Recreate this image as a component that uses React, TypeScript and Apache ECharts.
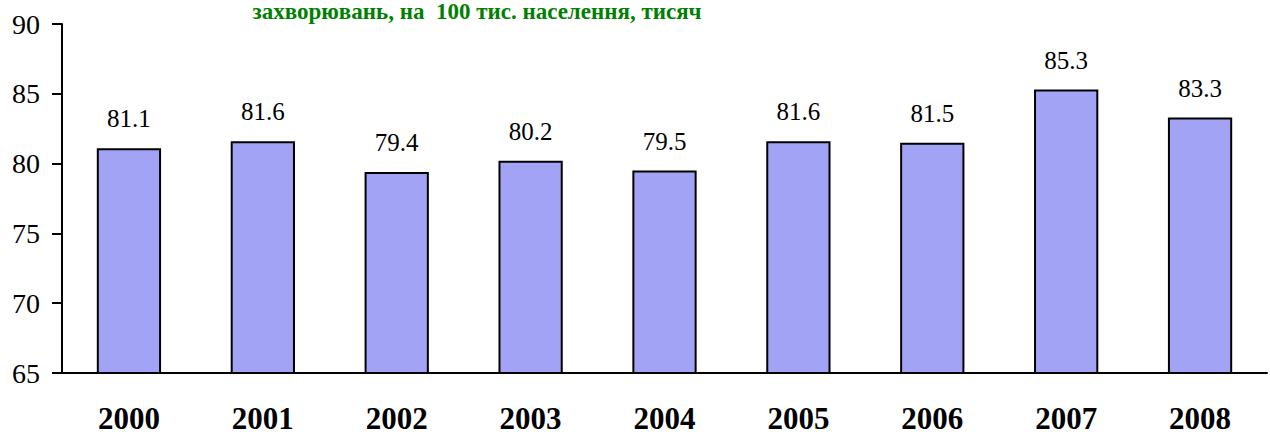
import React, { useEffect, useRef } from "react";
import * as echarts from "echarts";

const years = ["2000", "2001", "2002", "2003", "2004", "2005", "2006", "2007", "2008"];
const values = [81.1, 81.6, 79.4, 80.2, 79.5, 81.6, 81.5, 85.3, 83.3];
const titleText = "захворювань, на  100 тис. населення, тисяч";

const SERIF = "Liberation Serif";

export default function App() {
  const ref = useRef<HTMLDivElement>(null);
  useEffect(() => {
    const chart = echarts.init(ref.current!, null, { renderer: "svg" });
    chart.setOption({
      animation: false,
      backgroundColor: "#ffffff",
      graphic: [
        {
          type: "text",
          x: 477,
          y: 0,
          style: {
            text: titleText,
            fontFamily: SERIF,
            fontWeight: "bold",
            fontSize: 23,
            fill: "#008000",
            textAlign: "center",
            textVerticalAlign: "top",
          },
        },
      ],
      grid: { left: 62, right: 3, top: 24, bottom: 63 },
      xAxis: {
        type: "category",
        data: years,
        axisLine: { lineStyle: { color: "#000", width: 2 } },
        axisTick: { length: 10, lineStyle: { color: "#000", width: 2 } },
        axisLabel: {
          color: "#000",
          fontFamily: SERIF,
          fontWeight: "bold",
          fontSize: 31,
          margin: 30,
        },
      },
      yAxis: {
        type: "value",
        min: 65,
        max: 90,
        interval: 5,
        splitLine: { show: false },
        axisLine: { show: true, lineStyle: { color: "#000", width: 2 } },
        axisTick: { show: true, length: 10, lineStyle: { color: "#000", width: 2 } },
        axisLabel: {
          color: "#000",
          fontFamily: SERIF,
          fontSize: 28,
          margin: 22,
        },
      },
      series: [
        {
          type: "bar",
          data: values,
          barWidth: "48%",
          itemStyle: { color: "#a3a3f5", borderColor: "#000", borderWidth: 2 },
          label: {
            show: true,
            position: "top",
            distance: 17,
            color: "#000",
            fontFamily: SERIF,
            fontSize: 25,
            formatter: (p: any) => p.value.toFixed(1),
          },
        },
      ],
    });
    return () => chart.dispose();
  }, []);
  return (
    <div
      ref={ref}
      style={{ position: "fixed", left: 0, top: 0, width: 1270, height: 436 }}
    />
  );
}
